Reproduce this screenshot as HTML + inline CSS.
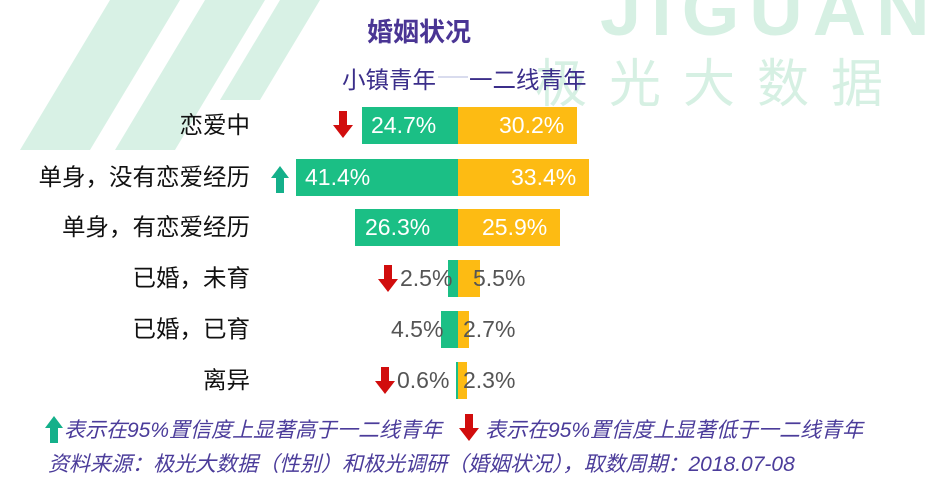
<!DOCTYPE html>
<html><head><meta charset="utf-8"><style>
body{margin:0;width:930px;height:490px;background:#fff;position:relative;overflow:hidden;font-family:"Liberation Sans","Noto Sans CJK SC",sans-serif}
.a{position:absolute;white-space:nowrap}
.lab{position:absolute;right:680px;font-size:23.5px;color:#111;line-height:37px}
.g{position:absolute;background:#1bbf85;height:37px}
.y{position:absolute;background:#fdbb13;height:37px}
.v{position:absolute;font-size:23px;line-height:37px;color:#fff}
.d{color:#555}
.f{position:absolute;white-space:nowrap;font-size:21px;font-style:italic;color:#4b3c9a}
</style></head><body>
<svg class="a" style="left:0;top:0" width="930" height="160">
<g fill="#d8f1e5">
<polygon points="110,0 180,0 90,150 20,150"/>
<polygon points="205,0 265,0 175,150 115,150"/>
<polygon points="280,0 320,0 260,100 220,100"/>
</g>
<text x="600" y="35" font-size="74" font-weight="bold" letter-spacing="10" fill="#d6f0e3" font-family="Liberation Sans, sans-serif">JIGUANG</text>
<text x="535" y="102" font-size="52" letter-spacing="22" fill="#d6f0e3" font-family="Noto Sans CJK SC, sans-serif">极光大数据</text>
</svg>
<div class="a" style="left:367px;top:12px;font-size:26px;font-weight:bold;color:#4a3594">婚姻状况</div>
<div class="a" style="left:342px;top:61px;font-size:23.5px;color:#3b2e8a">小镇青年</div>
<div class="a" style="left:438px;top:76px;width:30px;height:2px;background:#d9dcee"></div>
<div class="a" style="left:469px;top:61px;font-size:23.5px;color:#3b2e8a">一二线青年</div>

<div class="lab" style="top:107px">恋爱中</div>
<div class="lab" style="top:159px">单身，没有恋爱经历</div>
<div class="lab" style="top:209px">单身，有恋爱经历</div>
<div class="lab" style="top:260px">已婚，未育</div>
<div class="lab" style="top:311px">已婚，已育</div>
<div class="lab" style="top:362px">离异</div>

<div class="g" style="left:362px;width:96px;top:107px"></div><div class="y" style="left:458px;width:119px;top:107px"></div>
<div class="g" style="left:296px;width:162px;top:159px"></div><div class="y" style="left:458px;width:131px;top:159px"></div>
<div class="g" style="left:355px;width:103px;top:209px"></div><div class="y" style="left:458px;width:102px;top:209px"></div>
<div class="g" style="left:448px;width:10px;top:260px"></div><div class="y" style="left:458px;width:22px;top:260px"></div>
<div class="g" style="left:441px;width:17px;top:311px"></div><div class="y" style="left:458px;width:11px;top:311px"></div>
<div class="g" style="left:456px;width:2px;top:362px"></div><div class="y" style="left:458px;width:9px;top:362px"></div>

<div class="v" style="left:371px;top:107px">24.7%</div><div class="v" style="left:499px;top:107px">30.2%</div>
<div class="v" style="left:305px;top:159px">41.4%</div><div class="v" style="left:511px;top:159px">33.4%</div>
<div class="v" style="left:365px;top:209px">26.3%</div><div class="v" style="left:482px;top:209px">25.9%</div>
<div class="v d" style="left:400px;top:260px">2.5%</div><div class="v d" style="left:473px;top:260px">5.5%</div>
<div class="v d" style="left:391px;top:311px">4.5%</div><div class="v d" style="left:463px;top:311px">2.7%</div>
<div class="v d" style="left:397px;top:362px">0.6%</div><div class="v d" style="left:463px;top:362px">2.3%</div>

<svg class="a" style="left:0;top:0" width="930" height="490">
<defs>
<polygon id="dn" points="-4,0 4,0 4,14 10,14 0,27 -10,14 -4,14"/>
<polygon id="up" points="-4,27 4,27 4,12 9,12 0,0 -9,12 -4,12"/>
</defs>
<use href="#dn" x="343" y="111" fill="#d10d0d"/>
<use href="#up" x="280" y="166" fill="#14b08a"/>
<use href="#dn" x="388" y="265" fill="#d10d0d"/>
<use href="#dn" x="385" y="367" fill="#d10d0d"/>
<use href="#up" x="54" y="416" fill="#14b08a"/>
<use href="#dn" x="469" y="414" fill="#d10d0d"/>
</svg>
<div class="f" style="left:64px;top:414px">表示在95%置信度上显著高于一二线青年</div>
<div class="f" style="left:485px;top:414px">表示在95%置信度上显著低于一二线青年</div>
<div class="f" style="left:48px;top:448px">资料来源：极光大数据（性别）和极光调研（婚姻状况），取数周期：2018.07-08</div>
</body></html>
